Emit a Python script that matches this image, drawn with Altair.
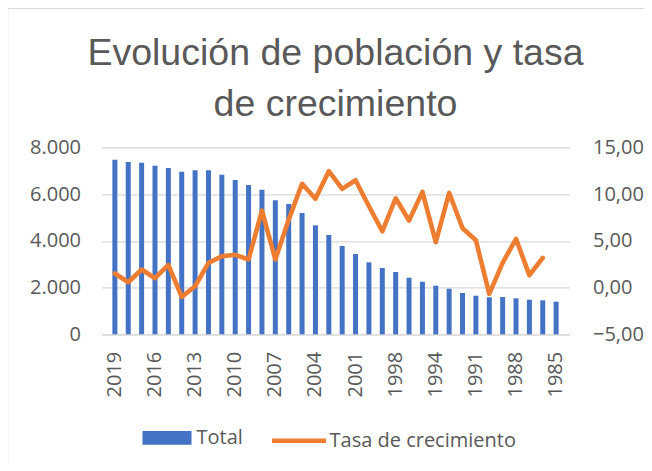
import altair as alt
import pandas as pd

years = [2019, 2018, 2017, 2016, 2015, 2014, 2013, 2012, 2011, 2010,
         2009, 2008, 2007, 2006, 2005, 2004, 2003, 2002, 2001, 2000,
         1999, 1998, 1997, 1995, 1994, 1993, 1992, 1991, 1990, 1989,
         1988, 1987, 1986, 1985]
total = [7470, 7371, 7342, 7213, 7115, 6957, 7016, 7016, 6828, 6601,
         6387, 6187, 5733, 5574, 5190, 4663, 4248, 3778, 3435, 3080,
         2837, 2665, 2422, 2250, 2079, 1951, 1767, 1651, 1583, 1596,
         1540, 1481, 1455, 1395]
tasa = [1.50, 0.57, 1.93, 1.00, 2.43, -1.00, 0.14, 2.64, 3.35, 3.50,
        3.00, 8.24, 3.00, 7.27, 11.10, 9.49, 12.44, 10.55, 11.48, 8.70,
        6.02, 9.55, 7.17, 10.23, 4.85, 10.13, 6.34, 5.06, -0.68, 2.64,
        5.21, 1.32, 3.17]
tick_labels = ["2019", "2016", "2013", "2010", "2007", "2004", "2001",
               "1998", "1994", "1991", "1988", "1985"]
title_lines = ["Evolución de población y tasa", "de crecimiento"]

year_str = [str(y) for y in years]
bars_df = pd.DataFrame({"year": year_str, "total": total, "serie": "Total"})
line_df = pd.DataFrame({"year": year_str[:len(tasa)], "tasa": tasa,
                        "serie": "Tasa de crecimiento"})

GRAY = "#595959"
GRID = "#d9d9d9"
FONT = "Open Sans"

x_enc = alt.X("year:N", sort=year_str, title=None,
              scale=alt.Scale(paddingInner=0, paddingOuter=0.5),
              axis=alt.Axis(values=tick_labels, labelAngle=-90, ticks=False,
                            tickSize=0, labelPadding=17, domainColor=GRID,
                            domainWidth=1.3, grid=False))

bars = alt.Chart(bars_df).mark_bar(size=5, color="#4472C4").encode(
    x=x_enc,
    y=alt.Y("total:Q", title=None,
            scale=alt.Scale(domain=[0, 8000], nice=False),
            axis=alt.Axis(values=[0, 2000, 4000, 6000, 8000], ticks=False,
                          tickSize=0, domain=False, labelPadding=21,
                          grid=True, gridColor=GRID, gridWidth=1.3,
                          labelExpr="replace(format(datum.value, ','), ',', '.')")),
    color=alt.Color("serie:N", title=None,
                    scale=alt.Scale(domain=["Total"], range=["#4472C4"]),
                    legend=alt.Legend(orient="none", legendX=41, legendY=266,
                                      symbolType="M-1,-0.28L1,-0.28L1,0.28L-1,0.28Z",
                                      symbolSize=2401, symbolStrokeWidth=0,
                                      labelOffset=5, labelLimit=300)),
)

line = alt.Chart(line_df).mark_line(color="#ED7D31", strokeWidth=4.6,
                                    strokeJoin="round", strokeCap="round").encode(
    x=alt.X("year:N", sort=year_str),
    y=alt.Y("tasa:Q", title=None,
            scale=alt.Scale(domain=[-5, 15], nice=False),
            axis=alt.Axis(orient="right", values=[-5, 0, 5, 10, 15],
                          ticks=False, tickSize=0, domain=False, grid=False,
                          labelPadding=23,
                          labelExpr="replace(format(datum.value, '.2f'), '.', ',')")),
    stroke=alt.Stroke("serie:N", title=None,
                      scale=alt.Scale(domain=["Tasa de crecimiento"], range=["#ED7D31"]),
                      legend=alt.Legend(orient="none", legendX=168, legendY=264,
                                        symbolType="stroke", symbolSize=2916,
                                        symbolStrokeWidth=4.6, labelOffset=1,
                                        labelLimit=300)),
)

frame = alt.Chart(pd.DataFrame({"k": [0]})).mark_rect(
    fill=None, stroke=GRID, strokeWidth=1.5).encode(
    x=alt.value(-94), x2=alt.value(700), y=alt.value(-139), y2=alt.value(600))

chart = alt.layer(frame, bars, line).resolve_scale(
    y="independent", color="independent", stroke="independent"
).resolve_legend(color="independent", stroke="independent").properties(
    width=468, height=187,
    padding={"left": 93.5, "top": 139.3, "right": 74.5, "bottom": 128.7},
    autosize=alt.AutoSizeParams(type="none"),
    title=alt.TitleParams(title_lines, fontSize=37.5, font="Liberation Sans",
                          fontWeight="normal", color=GRAY, lineHeight=51,
                          anchor="middle", offset=0, dy=116),
).configure_axis(
    labelFont=FONT, labelFontSize=20, labelColor=GRAY
).configure_legend(
    labelFont=FONT, labelFontSize=20, labelColor=GRAY
).configure_view(stroke=None)

chart.save("out.html", embed_options={"renderer": "svg", "actions": False})
